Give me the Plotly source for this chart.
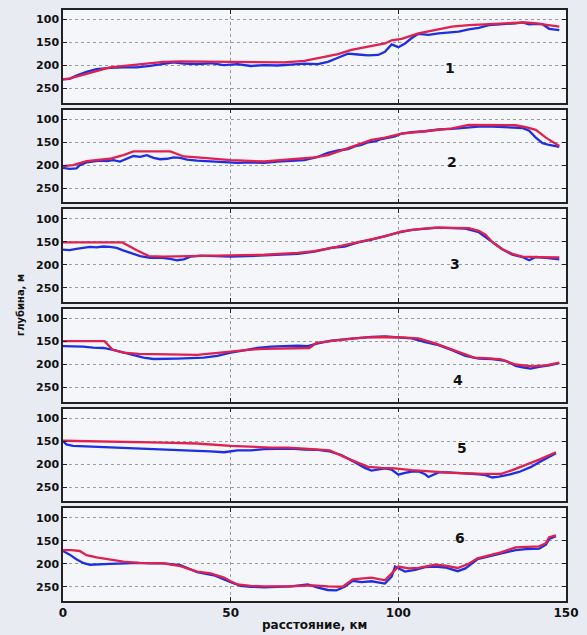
import plotly.graph_objects as go

# ---------------- data (distance km, depth m) ----------------
p1_red_x = [0, 2, 7, 14, 22, 30, 35, 50, 66, 72, 77, 82, 86, 90, 94, 96, 98, 101, 106, 111, 116, 121, 126, 131, 135, 138, 141, 144, 148]
p1_red_y = [230, 228, 218, 204, 198, 192, 191, 192, 193, 190, 183, 175, 166, 160, 155, 152, 145, 142, 130, 123, 115, 112, 110, 108, 106, 106, 108, 111, 115]
p1_blue_x = [0, 2, 4, 7, 10, 14, 18, 22, 26, 30, 33, 36, 40, 44, 48, 52, 56, 60, 64, 68, 72, 76, 79, 82, 85, 88, 91, 94, 96, 98, 100, 102, 104, 106, 109, 112, 115, 118, 121, 124, 127, 130, 133, 135, 137, 139, 141, 143, 145, 148]
p1_blue_y = [230, 229, 222, 214, 208, 205, 204, 204, 201, 197, 193, 196, 197, 195, 199, 197, 201, 199, 200, 198, 196, 197, 192, 183, 174, 176, 178, 177, 170, 154, 160, 152, 140, 131, 133, 130, 128, 126, 121, 118, 112, 111, 110, 108, 106, 110, 109, 110, 120, 123]

p2_red_x = [0, 3, 7, 14, 18, 21, 32, 36, 42, 50, 60, 66, 70, 75, 79, 86, 92, 96, 101, 108, 116, 121, 128, 135, 138, 141, 144, 148]
p2_red_y = [202, 200, 191, 186, 178, 170, 170, 181, 184, 189, 192, 189, 186, 183, 178, 160, 145, 140, 131, 126, 120, 112, 112, 113, 117, 123, 140, 158]
p2_blue_x = [0, 2, 4, 5, 7, 9, 11, 13, 15, 17, 19, 21, 23, 25, 27, 29, 31, 33, 35, 37, 40, 44, 48, 52, 56, 60, 64, 68, 72, 76, 79, 82, 85, 87, 89, 91, 93, 95, 97, 99, 101, 104, 108, 112, 116, 120, 124, 128, 132, 135, 137, 139, 141, 143, 145, 148]
p2_blue_y = [206, 208, 207, 200, 194, 192, 190, 191, 189, 192, 186, 180, 182, 178, 184, 187, 186, 183, 184, 188, 190, 192, 194, 195, 194, 195, 192, 190, 189, 182, 173, 168, 165, 159, 156, 150, 148, 143, 140, 137, 131, 128, 126, 122, 121, 118, 116, 116, 117, 117, 119, 125, 140, 152, 156, 160]

p3_red_x = [0, 5, 10, 17.7, 22, 25.6, 30, 40, 50, 60, 70, 75, 81.5, 86, 91, 96, 101, 106, 111, 116, 121, 124, 126, 128, 131, 134, 137, 142, 148]
p3_red_y = [151, 151, 151, 151, 168, 181, 182, 181, 180, 178, 174, 170, 161, 154, 146, 138, 127, 122, 119, 119, 120, 126, 134, 150, 166, 176, 182, 183, 184]
p3_blue_x = [0, 2, 4, 6, 8, 10, 12, 14, 16, 17.7, 20, 23, 26, 29, 32, 34, 36, 38, 41, 45, 50, 55, 60, 65, 70, 75, 80, 84, 88, 92, 96, 100, 104, 108, 112, 116, 120, 124, 128, 131, 134, 137, 139, 141, 144, 148]
p3_blue_y = [167, 168, 165, 163, 161, 162, 160, 161, 163, 168, 174, 181, 185, 184, 187, 190, 188, 182, 180, 181, 182, 181, 179, 178, 176, 171, 163, 160, 151, 145, 137, 130, 124, 121, 119, 120, 121, 129, 150, 166, 178, 183, 190, 183, 185, 188]

p4_red_x = [0, 5, 12.4, 14.8, 18, 22.6, 30, 40, 50, 55, 60, 70, 73.5, 75.6, 80, 86.5, 91, 96, 101, 106, 111, 116, 122.6, 126, 130.6, 135, 140, 144, 148]
p4_red_y = [149, 149, 149, 168, 174, 177, 178, 179, 172, 168, 166, 164, 164, 153, 149, 143, 141, 140, 141, 143, 154, 168, 185, 186, 189, 200, 204, 202, 196]
p4_blue_x = [0, 3, 6, 9, 12, 15, 18, 21, 24, 27, 30, 34, 38, 42, 46, 50, 54, 58, 62, 66, 70, 73, 76, 80, 84, 88, 92, 96, 100, 104, 108, 112, 116, 120, 124, 128, 132, 135, 137, 139.4, 142, 145, 148]
p4_blue_y = [160, 160, 161, 163, 164, 168, 174, 180, 185, 188, 188, 187, 186, 185, 181, 174, 169, 164, 161, 160, 159, 160, 154, 148, 145, 142, 140, 139, 141, 143, 151, 158, 169, 181, 187, 188, 192, 203, 206, 209, 205, 202, 197]

p5_red_x = [0, 10, 20.6, 30, 40, 50, 62, 67, 72, 79.5, 85, 91, 95, 99, 104, 109, 116, 125.6, 130.7, 134, 138, 142, 147]
p5_red_y = [149, 150, 151, 153, 155, 160, 164, 164, 166, 170, 188, 206, 208, 209, 213, 216, 219, 221, 221, 213, 202, 190, 174]
p5_blue_x = [0, 1, 3, 6, 10, 14, 18, 22, 26, 30, 35, 40, 44, 48, 52, 56, 60, 64, 68, 72, 76, 79.5, 83, 87, 90, 92, 94, 96, 98, 100, 102, 104, 106, 108, 109, 110, 112, 115, 118, 121, 124, 126, 128, 130, 133, 136, 139.6, 142, 145, 147]
p5_blue_y = [150, 157, 160, 161, 162, 163, 164, 165, 167, 168, 170, 171, 172, 174, 170, 170, 167, 166, 166, 168, 169, 172, 180, 196, 208, 214, 211, 209, 212, 223, 219, 216, 216, 222, 228, 225, 218, 218, 219, 220, 222, 224, 229, 227, 223, 217, 206, 196, 185, 176]

p6_red_x = [0, 2.5, 5, 7, 10, 14, 18, 22.6, 30, 35, 40, 44, 48, 50, 52, 56, 60, 67, 74.6, 79, 83.4, 86.4, 89, 92, 96, 98, 100, 103, 106, 111, 114, 117.7, 121, 123.6, 127, 130.6, 135, 138, 142, 144, 145, 147]
p6_red_y = [170, 170, 172, 181, 186, 191, 195, 198, 199, 205, 217, 221, 230, 238, 245, 248, 249, 249, 247, 249, 250, 234, 232, 230, 236, 222, 206, 210, 209, 202, 204, 209, 200, 188, 182, 175, 164, 163, 162, 155, 142, 138]
p6_blue_x = [0, 2, 4, 6, 8, 10, 14, 18.7, 22, 26, 30, 35, 40, 45, 48, 50, 53, 56, 60, 64, 68, 73, 76, 79, 81.5, 84, 86.4, 89, 92, 96, 98, 99, 100, 102, 105, 108, 111, 114, 117.7, 120, 123.6, 127, 130.6, 133, 135, 138, 142, 144, 145, 147]
p6_blue_y = [172, 180, 190, 198, 202, 201, 200, 199, 198, 199, 199, 203, 218, 225, 235, 240, 248, 250, 251, 250, 249, 245, 252, 257, 258, 250, 237, 240, 238, 243, 228, 206, 210, 217, 213, 207, 206, 208, 216, 210, 190, 184, 179, 174, 170, 168, 167, 158, 146, 140]

panel_labels = ["1", "2", "3", "4", "5", "6"]
label_pos_x = [115.3, 116, 117, 117.9, 119, 118.5]
label_pos_y = [206, 194, 198, 234, 164, 143]

y_ticks = [100, 150, 200, 250]
x_ticks = [0, 50, 100, 150]
x_title = "расстояние, км"
y_title = "глубина, м"

panels = [
    (p1_blue_x, p1_blue_y, p1_red_x, p1_red_y),
    (p2_blue_x, p2_blue_y, p2_red_x, p2_red_y),
    (p3_blue_x, p3_blue_y, p3_red_x, p3_red_y),
    (p4_blue_x, p4_blue_y, p4_red_x, p4_red_y),
    (p5_blue_x, p5_blue_y, p5_red_x, p5_red_y),
    (p6_blue_x, p6_blue_y, p6_red_x, p6_red_y),
]

# ---------------- figure ----------------
W, H = 587, 635
ML, MR, MT, MB = 63, 14, 8, 34
plot_h = H - MT - MB
panel_h, gap = 93, 7

BLUE = "#1d2fe0"
RED = "#e0204e"
FONT = "DejaVu Sans, Arial, sans-serif"

fig = go.Figure()
layout_axes = {}
annotations = []
for i, (bx, by, rx, ry) in enumerate(panels):
    n = i + 1
    xa = "x" if n == 1 else f"x{n}"
    ya = "y" if n == 1 else f"y{n}"
    fig.add_trace(go.Scatter(x=bx, y=by, mode="lines", xaxis=xa, yaxis=ya,
                             line=dict(color=BLUE, width=2.3), showlegend=False))
    fig.add_trace(go.Scatter(x=rx, y=ry, mode="lines", xaxis=xa, yaxis=ya,
                             line=dict(color=RED, width=2.3), showlegend=False))
    top_px = i * (panel_h + gap)
    bot_px = top_px + panel_h
    dom = [(plot_h - bot_px) / plot_h, (plot_h - top_px) / plot_h]
    xkey = "xaxis" if n == 1 else f"xaxis{n}"
    ykey = "yaxis" if n == 1 else f"yaxis{n}"
    layout_axes[xkey] = dict(
        domain=[0, 1], anchor=ya, range=[0, 150], tickvals=x_ticks,
        showticklabels=(n == 6), ticks="inside", ticklen=4, tickcolor="#222",
        showline=True, linecolor="#222", linewidth=1.5, mirror="ticks",
        showgrid=True, gridcolor="#9a9ca3", griddash="dot", gridwidth=1,
        zeroline=False, tickfont=dict(family=FONT, size=12, color="#111", weight="bold"),
    )
    layout_axes[ykey] = dict(
        domain=dom, anchor=xa, range=[281, 79], tickvals=y_ticks,
        ticks="inside", ticklen=4, tickcolor="#222",
        showline=True, linecolor="#222", linewidth=1.5, mirror="ticks",
        showgrid=True, gridcolor="#9a9ca3", griddash="dot", gridwidth=1,
        zeroline=False, tickfont=dict(family=FONT, size=11, color="#111", weight="bold"),
    )
    annotations.append(dict(x=label_pos_x[i], y=label_pos_y[i], xref=xa, yref=ya,
                            text=f"<b>{panel_labels[i]}</b>", showarrow=False,
                            font=dict(family=FONT, size=14, color="#111")))

annotations.append(dict(x=0.5, y=(-(625 - (H - MB)) / plot_h), xref="paper", yref="paper",
                        xanchor="center", yanchor="middle",
                        text=f"<b>{x_title}</b>", showarrow=False,
                        font=dict(family=FONT, size=12, color="#111")))
annotations.append(dict(x=(20 - ML) / (W - ML - MR), y=0.5, xref="paper", yref="paper",
                        xanchor="center", yanchor="middle",
                        text=f"<b>{y_title}</b>", showarrow=False, textangle=-90,
                        font=dict(family=FONT, size=10, color="#111")))

fig.update_layout(
    width=W, height=H,
    margin=dict(l=ML, r=MR, t=MT, b=MB),
    paper_bgcolor="#e8ebf1",
    plot_bgcolor="#f5f6f9",
    annotations=annotations,
    **layout_axes,
)

fig.write_html(
    "out.html",
    config={"displayModeBar": False},
    post_script="document.body.style.margin='0';document.body.style.overflow='hidden';",
)
